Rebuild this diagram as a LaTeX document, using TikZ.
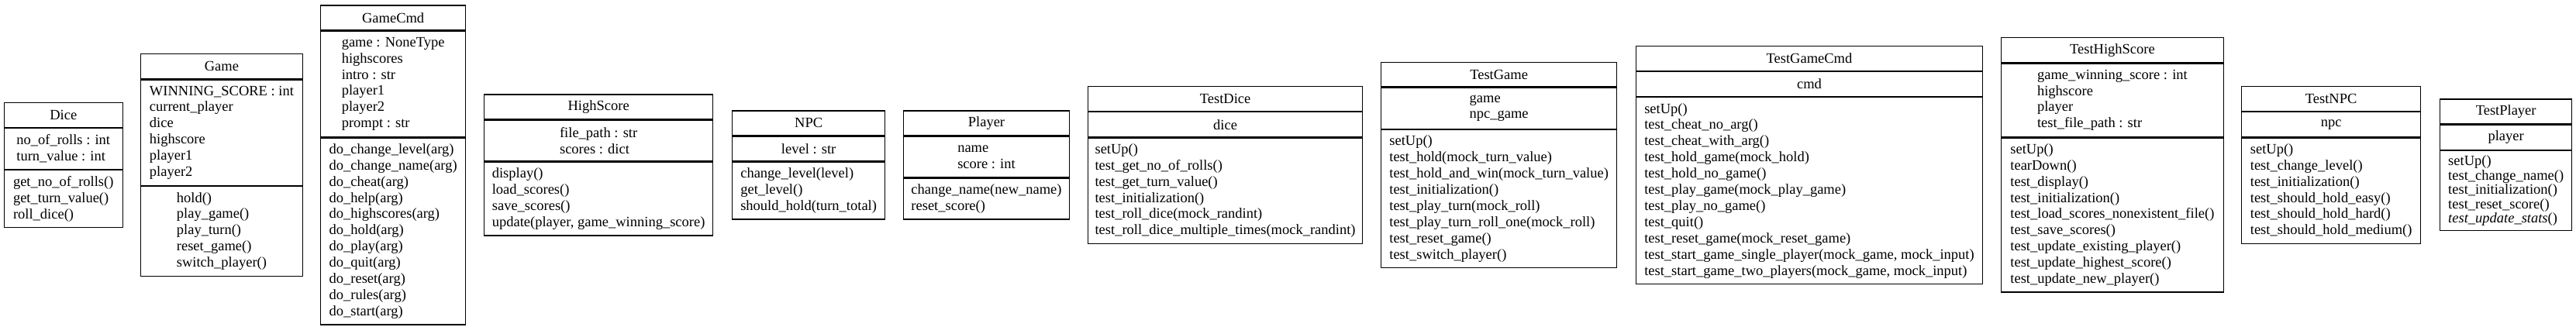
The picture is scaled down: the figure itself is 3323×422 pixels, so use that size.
\documentclass[tikz,border=0pt]{standalone}
\usepackage{fontspec}
\setmainfont{Liberation Serif}
\tikzset{
  cell/.style={draw=black, line width=1.3pt, rectangle, inner sep=0pt, align=left,
    font=\fontsize{18.5}{20.9}\selectfont},
  tightcell/.style={font=\fontsize{18.5}{18.5}\selectfont}
}
\newcommand{\umlclass}[9]{%
  \pgfmathsetmacro{\hA}{20.9*#5+11}%
  \pgfmathsetmacro{\hM}{20.9*#7+11}%
  \pgfmathsetmacro{\topY}{211-(31.9+\hA+\hM)/2}%
  \node[cell, minimum width=#3, minimum height=31.9, anchor=north west] (#1-t) at (#2,\topY) {#4};
  \node[cell, minimum width=#3, minimum height=\hA, anchor=north] (#1-a) at (#1-t.south) {#6};
  \node[cell, minimum width=#3, minimum height=\hM, anchor=north, #9] (#1-m) at (#1-a.south) {#8};
}
\begin{document}
\begin{tikzpicture}[x=1pt, y=-1pt]
\useasboundingbox (0,0) rectangle (3323,422);

\umlclass{dice}{4.6}{153}{Dice}{2}{no\_of\_rolls : int\\turn\_value : int}{3}{get\_no\_of\_rolls()\\get\_turn\_value()\\roll\_dice()}{}

\umlclass{game}{181}{208.6}{Game}{6}{WINNING\_SCORE : int\\current\_player\\dice\\highscore\\player1\\player2}{5}{hold()\\play\_game()\\play\_turn()\\reset\_game()\\switch\_player()}{}

\umlclass{gamecmd}{413}{187}{GameCmd}{6}{game : NoneType\\highscores\\intro : str\\player1\\player2\\prompt : str}{11}{do\_change\_level(arg)\\do\_change\_name(arg)\\do\_cheat(arg)\\do\_help(arg)\\do\_highscores(arg)\\do\_hold(arg)\\do\_play(arg)\\do\_quit(arg)\\do\_reset(arg)\\do\_rules(arg)\\do\_start(arg)}{}

\umlclass{highscore}{624}{295}{HighScore}{2}{file\_path : str\\scores : dict}{4}{display()\\load\_scores()\\save\_scores()\\update(player, game\_winning\_score)}{}

\umlclass{npc}{944}{197}{NPC}{1}{level : str}{3}{change\_level(level)\\get\_level()\\should\_hold(turn\_total)}{}

\umlclass{player}{1165}{213.7}{Player}{2}{name\\score : int}{2}{change\_name(new\_name)\\reset\_score()}{}

\umlclass{testdice}{1402.8}{354.2}{TestDice}{1}{dice}{6}{setUp()\\test\_get\_no\_of\_rolls()\\test\_get\_turn\_value()\\test\_initialization()\\test\_roll\_dice(mock\_randint)\\test\_roll\_dice\_multiple\_times(mock\_randint)}{}

\umlclass{testgame}{1781}{304}{TestGame}{2}{game\\npc\_game}{8}{setUp()\\test\_hold(mock\_turn\_value)\\test\_hold\_and\_win(mock\_turn\_value)\\test\_initialization()\\test\_play\_turn(mock\_roll)\\test\_play\_turn\_roll\_one(mock\_roll)\\test\_reset\_game()\\test\_switch\_player()}{}

\umlclass{testgamecmd}{2109.6}{447.4}{TestGameCmd}{1}{cmd}{11}{setUp()\\test\_cheat\_no\_arg()\\test\_cheat\_with\_arg()\\test\_hold\_game(mock\_hold)\\test\_hold\_no\_game()\\test\_play\_game(mock\_play\_game)\\test\_play\_no\_game()\\test\_quit()\\test\_reset\_game(mock\_reset\_game)\\test\_start\_game\_single\_player(mock\_game, mock\_input)\\test\_start\_game\_two\_players(mock\_game, mock\_input)}{}

\umlclass{testhighscore}{2581}{286.5}{TestHighScore}{4}{game\_winning\_score : int\\highscore\\player\\test\_file\_path : str}{9}{setUp()\\tearDown()\\test\_display()\\test\_initialization()\\test\_load\_scores\_nonexistent\_file()\\test\_save\_scores()\\test\_update\_existing\_player()\\test\_update\_highest\_score()\\test\_update\_new\_player()}{}

\umlclass{testnpc}{2891}{231}{TestNPC}{1}{npc}{6}{setUp()\\test\_change\_level()\\test\_initialization()\\test\_should\_hold\_easy()\\test\_should\_hold\_hard()\\test\_should\_hold\_medium()}{}

\umlclass{testplayer}{3147}{170}{TestPlayer}{1}{player}{4.416}{setUp()\\test\_change\_name()\\test\_initialization()\\test\_reset\_score()\\\textit{test\_update\_stats}()}{tightcell}

\end{tikzpicture}
\end{document}
